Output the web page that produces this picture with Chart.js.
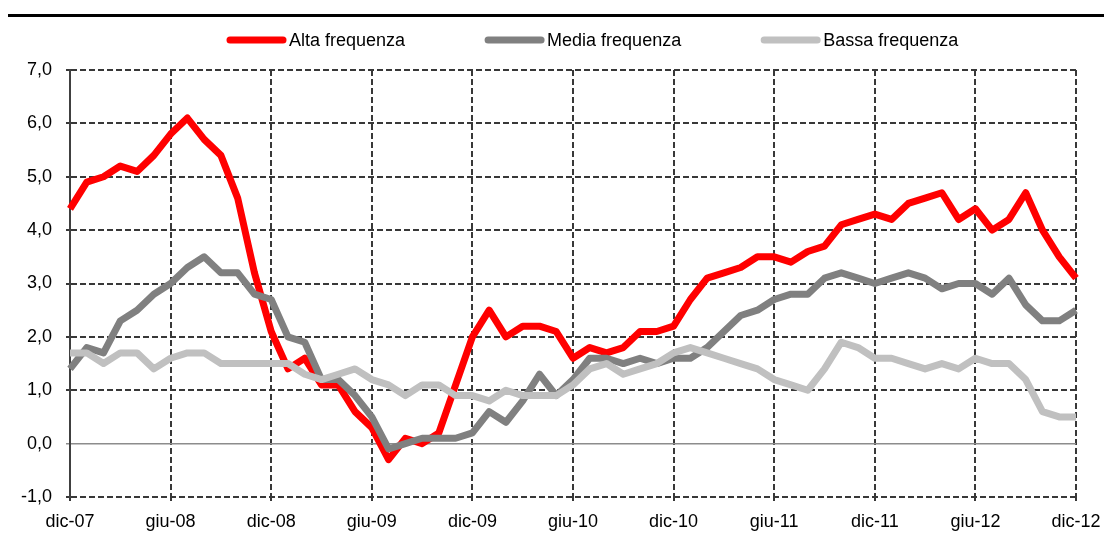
<!DOCTYPE html>
<html>
<head>
<meta charset="utf-8">
<script src="https://cdn.jsdelivr.net/npm/chart.js@4/dist/chart.umd.min.js"></script>
<style>
  html, body { margin: 0; padding: 0; background: #fff; }
  #wrap { width: 1104px; height: 557px; position: relative; }
</style>
</head>
<body>
<div id="wrap"><canvas id="chart" width="1104" height="557"></canvas></div>
<script>
// months shown on the x axis (dic-07 .. dic-12, monthly)
const mesi = ["gen", "feb", "mar", "apr", "mag", "giu", "lug", "ago", "set", "ott", "nov", "dic"];
const labels = ["dic-07"];
for (let y = 8; y <= 12; y++) {
  for (const m of mesi) labels.push(m + "-" + String(y).padStart(2, "0"));
}

const seriesNames = ["Alta frequenza", "Media frequenza", "Bassa frequenza"];

const alta = [4.4, 4.9, 5.0, 5.2, 5.1, 5.4, 5.8, 6.1, 5.7, 5.4, 4.6, 3.2, 2.1, 1.4, 1.6, 1.1, 1.1, 0.6, 0.3, -0.3,
  0.1, 0.0, 0.2, 1.1, 2.0, 2.5, 2.0, 2.2, 2.2, 2.1, 1.6, 1.8, 1.7, 1.8, 2.1, 2.1, 2.2, 2.7, 3.1, 3.2,
  3.3, 3.5, 3.5, 3.4, 3.6, 3.7, 4.1, 4.2, 4.3, 4.2, 4.5, 4.6, 4.7, 4.2, 4.4, 4.0, 4.2, 4.7, 4.0, 3.5, 3.1];

const media = [1.4, 1.8, 1.7, 2.3, 2.5, 2.8, 3.0, 3.3, 3.5, 3.2, 3.2, 2.8, 2.7, 2.0, 1.9, 1.2, 1.2, 0.9, 0.5, -0.1,
  0.0, 0.1, 0.1, 0.1, 0.2, 0.6, 0.4, 0.8, 1.3, 0.9, 1.2, 1.6, 1.6, 1.5, 1.6, 1.5, 1.6, 1.6, 1.8, 2.1,
  2.4, 2.5, 2.7, 2.8, 2.8, 3.1, 3.2, 3.1, 3.0, 3.1, 3.2, 3.1, 2.9, 3.0, 3.0, 2.8, 3.1, 2.6, 2.3, 2.3, 2.5];

const bassa = [1.7, 1.7, 1.5, 1.7, 1.7, 1.4, 1.6, 1.7, 1.7, 1.5, 1.5, 1.5, 1.5, 1.5, 1.3, 1.2, 1.3, 1.4, 1.2, 1.1,
  0.9, 1.1, 1.1, 0.9, 0.9, 0.8, 1.0, 0.9, 0.9, 0.9, 1.1, 1.4, 1.5, 1.3, 1.4, 1.5, 1.7, 1.8, 1.7, 1.6,
  1.5, 1.4, 1.2, 1.1, 1.0, 1.4, 1.9, 1.8, 1.6, 1.6, 1.5, 1.4, 1.5, 1.4, 1.6, 1.5, 1.5, 1.2, 0.6, 0.5, 0.5];

const colors = ["#ff0000", "#808080", "#c0c0c0"];
const yMin = -1, yMax = 7;

const FONT = "'Liberation Sans', Arial, sans-serif";
const FSIZE = 18;

// top rule + legend drawn by hand so spacing matches the original
const decor = {
  id: "decor",
  beforeDraw(chart) {
    const ctx = chart.ctx;
    ctx.save();
    ctx.fillStyle = "#000";
    ctx.fillRect(8, 14, 1096, 3);
    ctx.restore();
  },
  afterDraw(chart) {
    const ctx = chart.ctx;
    ctx.save();
    ctx.font = FSIZE + "px " + FONT;
    ctx.textBaseline = "middle";
    let x = 230;
    const y = 40;
    chart.data.datasets.forEach((ds) => {
      ctx.strokeStyle = ds.borderColor;
      ctx.lineWidth = 7;
      ctx.lineCap = "round";
      ctx.beginPath();
      ctx.moveTo(x, y);
      ctx.lineTo(x + 53, y);
      ctx.stroke();
      ctx.fillStyle = "#000";
      ctx.fillText(ds.label, x + 59, y + 1);
      x += 59 + ctx.measureText(ds.label).width + 83;
    });
    ctx.restore();
  }
};

new Chart(document.getElementById("chart"), {
  type: "line",
  data: {
    labels: labels,
    datasets: [
      { label: seriesNames[0], data: alta, borderColor: colors[0], order: 2 },
      { label: seriesNames[1], data: media, borderColor: colors[1], order: 1 },
      { label: seriesNames[2], data: bassa, borderColor: colors[2], order: 0 }
    ]
  },
  options: {
    responsive: false,
    animation: false,
    layout: { padding: { top: 70, right: 28, left: 0, bottom: 0 } },
    elements: {
      line: { borderWidth: 7, tension: 0, borderJoinStyle: "round", borderCapStyle: "butt" },
      point: { radius: 0, hoverRadius: 0 }
    },
    plugins: { legend: { display: false }, tooltip: { enabled: false } },
    scales: {
      x: {
        offset: false,
        afterFit(scale) {
          scale.height = 60;
          scale.paddingLeft = 0;
          scale.paddingRight = 0;
        },
        grid: { color: "#383838", lineWidth: 2, tickLength: 4 },
        border: { display: false, dash: [6, 3] },
        ticks: {
          autoSkip: false,
          maxRotation: 0,
          padding: 10,
          color: "#000",
          font: { size: FSIZE, family: FONT },
          callback(v, i) { return i % 6 === 0 ? labels[i] : null; }
        }
      },
      y: {
        min: yMin,
        max: yMax,
        afterFit(scale) { scale.width = 70; },
        grid: {
          color: (c) => (c.tick && c.tick.value === 0 ? "#8c8c8c" : "#383838"),
          lineWidth: (c) => (c.tick && c.tick.value === 0 ? 1.5 : 2),
          tickLength: 4
        },
        border: {
          display: true,
          color: "#404040",
          width: 2,
          dash: (c) => (c.tick && c.tick.value === 0 ? [] : [6, 3])
        },
        ticks: {
          stepSize: 1,
          padding: 14,
          color: "#000",
          font: { size: FSIZE, family: FONT },
          callback: (v) => v.toFixed(1).replace(".", ",")
        }
      }
    }
  },
  plugins: [decor]
});
</script>
</body>
</html>
